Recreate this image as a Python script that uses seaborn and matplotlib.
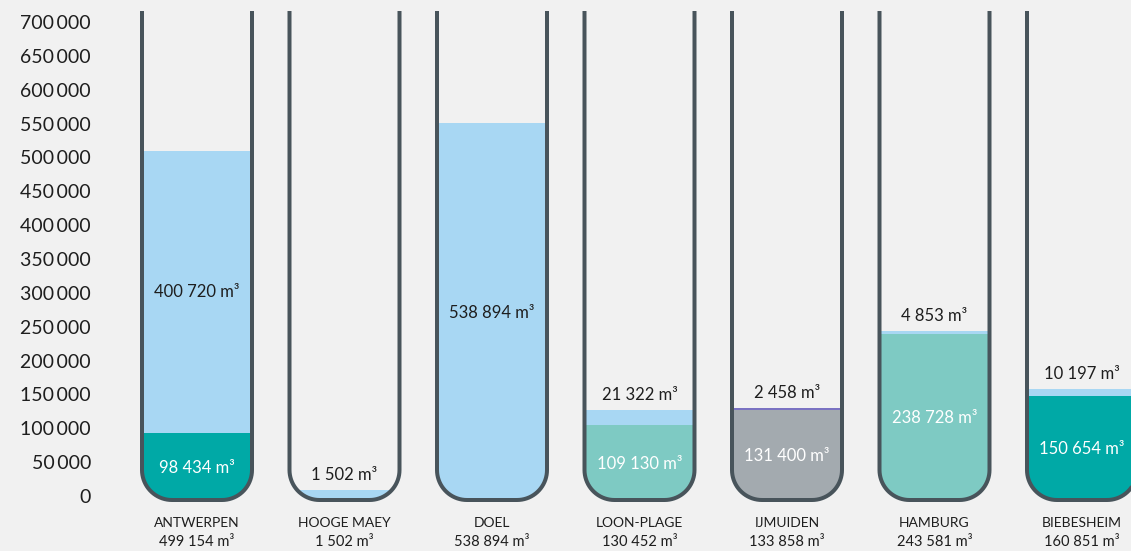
import numpy as np
import pandas as pd
import matplotlib
matplotlib.use("Agg")
import matplotlib.pyplot as plt
import seaborn as sns
from matplotlib.path import Path
from matplotlib.patches import PathPatch
from matplotlib.ticker import FixedLocator, FixedFormatter

# ---------------- data ----------------
sites = ["ANTWERPEN", "HOOGE MAEY", "DOEL", "LOON-PLAGE", "IJMUIDEN", "HAMBURG", "BIEBESHEIM"]
base_volume = [98434, 0, 0, 109130, 131400, 238728, 150654]
top_volume = [400720, 1502, 538894, 21322, 2458, 4853, 10197]
y_tick_values = [0, 50000, 100000, 150000, 200000, 250000, 300000, 350000,
                 400000, 450000, 500000, 550000, 600000, 650000, 700000]

# ---------------- style ----------------
LIGHT_BLUE = "#a8d7f3"
DARK_TEAL = "#00a9a6"
LIGHT_TEAL = "#7ecac3"
GREY = "#a3aaaf"
PURPLE = "#7a72c2"
OUTLINE = "#48545b"
BG = "#f1f1f1"
DARK_TXT = "#1e1e1e"
top_colors = [LIGHT_BLUE, LIGHT_BLUE, LIGHT_BLUE, LIGHT_BLUE, PURPLE, LIGHT_BLUE, LIGHT_BLUE]
base_colors = [DARK_TEAL, LIGHT_BLUE, LIGHT_BLUE, LIGHT_TEAL, GREY, LIGHT_TEAL, DARK_TEAL]
FONT = ["Lato", "DejaVu Sans"]

W, H = 1131, 551
CAT0_PX, STEP_PX = 197.0, 147.5        # centre of first tube, spacing (pixels)
ZERO_PX, TOP_PX, Y_MAX = 502.3, 9.5, 700000   # data scale (pixels from top)
LBL_ZERO_PX, LBL_TOP_PX = 496.0, 22.0  # tick label scale (pixels from top)
TUBE_HALF_PX, TUBE_BOTTOM_PX, TUBE_TOP_PX, RADIUS_PX = 55.0, 500.0, 11.0, 30.0
LINE_PX = 4.0
MIN_BAR_PX = 12.0

sns.set_theme(style="white")
plt.rcParams["font.family"] = FONT

df = pd.DataFrame({"site": sites, "base": base_volume, "top": top_volume})
df["total"] = df["base"] + df["top"]

fig = plt.figure(figsize=(W / 100, H / 100), dpi=100)
fig.patch.set_facecolor(BG)
ax = fig.add_axes([0, 0, 1, 1])

ppu = (ZERO_PX - TOP_PX) / Y_MAX  # pixels per unit


def xd(px):
    return (px - CAT0_PX) / STEP_PX


def yd(py):
    return (ZERO_PX - py) / ppu


# stacked bars: totals first, bases on top
sns.barplot(data=df, x="site", y="total", hue="site", palette=top_colors,
            width=0.76, saturation=1, legend=False, errorbar=None, linewidth=0, ax=ax)
n_first = len(ax.patches)
sns.barplot(data=df, x="site", y="base", hue="site", palette=base_colors,
            width=0.76, saturation=1, legend=False, errorbar=None, linewidth=0, ax=ax)

ax.set_xlim(xd(0), xd(W))
ax.set_ylim(yd(H), yd(0))
ax.set_axis_off()

# minimum visible height for tiny stacks
for p in ax.patches[:n_first]:
    if 0 < p.get_height() * ppu < MIN_BAR_PX:
        p.set_height(MIN_BAR_PX / ppu)


def tube_points(i, closed=False):
    cx = CAT0_PX + i * STEP_PX
    l, r = cx - TUBE_HALF_PX, cx + TUBE_HALF_PX
    b, t, rad = TUBE_BOTTOM_PX, TUBE_TOP_PX, RADIUS_PX
    a1 = np.linspace(np.pi, np.pi / 2, 20)
    a2 = np.linspace(np.pi / 2, 0, 20)
    xs = [l] + list(l + rad + rad * np.cos(a1)) + list(r - rad + rad * np.cos(a2)) + [r]
    ys = [t] + list(b - rad + rad * np.sin(a1)) + list(b - rad + rad * np.sin(a2)) + [t]
    if closed:
        xs.append(l)
        ys.append(t)
    return np.array([xd(x) for x in xs]), np.array([yd(y) for y in ys])


clips = []
for i in range(len(sites)):
    xs, ys = tube_points(i, closed=True)
    clip = PathPatch(Path(np.column_stack([xs, ys])), transform=ax.transData,
                     facecolor="none", edgecolor="none")
    clips.append(clip)

for p in ax.patches:
    idx = int(round(p.get_x() + p.get_width() / 2))
    p.set_clip_path(clips[idx])

for i in range(len(sites)):
    xs, ys = tube_points(i)
    ax.plot(xs, ys, color=OUTLINE, lw=LINE_PX * 0.72, solid_capstyle="butt",
            solid_joinstyle="round", zorder=5)


def fmt(v):
    return f"{v:,}".replace(",", " ") + " m³"


for i, row in df.iterrows():
    base, top, total = row["base"], row["top"], row["total"]
    shown_total = max(total * ppu, MIN_BAR_PX) / ppu
    if base > 0:
        ax.text(i, base / 2, fmt(base), ha="center", va="center", color="white",
                fontsize=12, zorder=6)
    top_px = (shown_total - base) * ppu
    if top_px >= 40:
        ax.text(i, base + (shown_total - base) / 2, fmt(top), ha="center", va="center",
                color=DARK_TXT, fontsize=12, zorder=6)
    else:
        ax.text(i, shown_total + 15 / ppu, fmt(top), ha="center", va="center",
                color=DARK_TXT, fontsize=12, zorder=6)
    ax.text(i, yd(523), row["site"], ha="center", va="center", color=DARK_TXT,
            fontsize=10, zorder=6)
    ax.text(i, yd(542), f"{total:,}".replace(",", " ") + " m³", ha="center",
            va="center", color=DARK_TXT, fontsize=10.5, zorder=6)

# y tick labels on their own scale
ax_t = fig.add_axes([98 / W, 0, 1 / W, 1])
ax_t.set_facecolor("none")
lppu = (LBL_ZERO_PX - LBL_TOP_PX) / Y_MAX
ax_t.set_ylim(-(H - LBL_ZERO_PX) / lppu, LBL_ZERO_PX / lppu)
for s in ax_t.spines.values():
    s.set_visible(False)
ax_t.xaxis.set_visible(False)
ax_t.yaxis.set_major_locator(FixedLocator(y_tick_values))
ax_t.yaxis.set_major_formatter(FixedFormatter(
    [f"{v:,}".replace(",", "\u2009") for v in y_tick_values]))
ax_t.tick_params(axis="y", length=0, pad=5, labelsize=14, labelcolor=DARK_TXT)

fig.savefig("out.png", dpi=100, facecolor=BG)
